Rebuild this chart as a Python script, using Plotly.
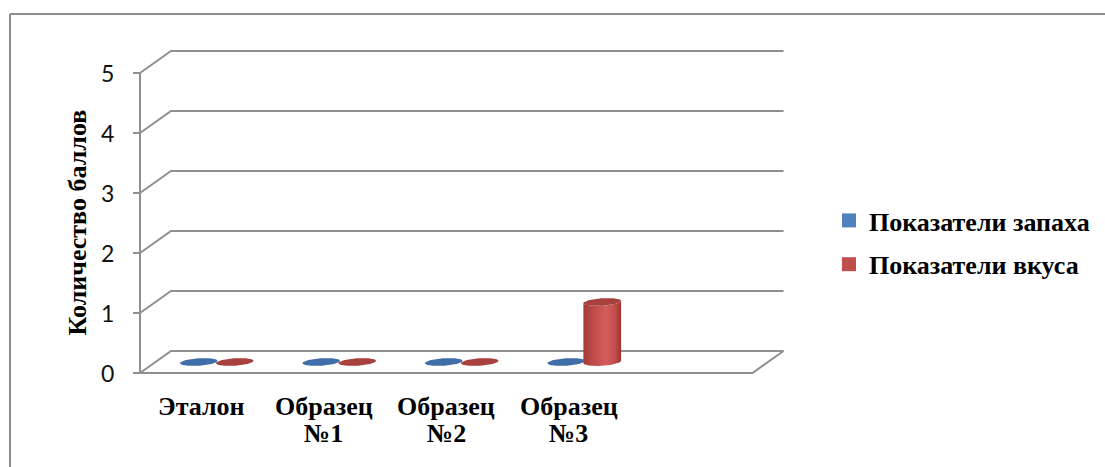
import numpy as np
import plotly.graph_objects as go

# ---------------- data ----------------
categories = [["Эталон"], ["Образец", "№1"], ["Образец", "№2"], ["Образец", "№3"], []]
series_names = ["Показатели запаха", "Показатели вкуса"]
smell_values = [0, 0, 0, 0]
taste_values = [0, 0, 0, 1]
y_ticks = [0, 1, 2, 3, 4, 5]
y_title = "Количество баллов"

# ---------------- styling / projection ----------------
W, H = 1105, 467
PX_X = 122.5          # pixels per category slot
PX_Y = 60.0           # pixels per value unit
X0_PX, Y0_PX = 140, 373
DX = 31 / PX_X        # depth offset (data units) for full depth
DY = 22 / PX_Y
GRID = "#8f8f8f"
SERIF = "Liberation Serif"
FS = 26
n_slots = len(categories)

blue_flat = "#3f6ea8"
blue_key = "#4f81bd"
red_flat = "#a8403e"
red_key = "#c0504d"
red_grad = [[0, "#a23a38"], [0.25, "#bf4b48"], [0.6, "#d45d5a"], [0.85, "#c04c49"], [1, "#9a3432"]]

fig = go.Figure()


def line(xs, ys):
    fig.add_trace(go.Scatter(x=xs, y=ys, mode="lines", line=dict(color=GRID, width=2),
                             hoverinfo="skip", showlegend=False))


# walls / gridlines
for v in y_ticks:
    line([0, DX, n_slots + DX], [v, v + DY, v + DY])
    line([-7 / PX_X, 0], [v, v])
line([0, 0], [y_ticks[0], y_ticks[-1]])
line([0, n_slots, n_slots + DX], [0, 0, DY])

# cylinders
R = 18 / PX_X      # radius along x (data units)
RD = 0.18          # radius along depth (fraction of depth)
th = np.linspace(0, 2 * np.pi, 121)


def ellipse(cx, cy, t):
    return cx + R * np.cos(t) + RD * DX * np.sin(t), cy + RD * DY * np.sin(t)


def cylinder(cx, val, flat_color):
    cy0 = 0.5 * DY
    if val <= 0:
        ex, ey = ellipse(cx, cy0, th)
        fig.add_trace(go.Scatter(x=ex, y=ey, fill="toself", fillcolor=flat_color, mode="lines",
                                 line=dict(width=0, color=flat_color), hoverinfo="skip", showlegend=False))
        return
    t0 = np.arctan2(RD * DX, R)
    front = np.linspace(t0 - np.pi, t0, 80)
    bx, by = ellipse(cx, cy0, front)
    tx, ty = ellipse(cx, cy0 + val, front[::-1])
    fig.add_trace(go.Scatter(x=np.r_[bx, tx, bx[:1]], y=np.r_[by, ty, by[:1]], fill="toself",
                             fillgradient=dict(type="horizontal", colorscale=red_grad),
                             mode="lines", line=dict(width=0, color=flat_color),
                             hoverinfo="skip", showlegend=False))
    ex, ey = ellipse(cx, cy0 + val, th)
    fig.add_trace(go.Scatter(x=ex, y=ey, fill="toself", fillcolor=flat_color, mode="lines",
                             line=dict(width=0, color=flat_color), hoverinfo="skip", showlegend=False))


for i in range(len(smell_values)):
    base = i + 0.5 + 0.5 * DX
    cylinder(base - R, smell_values[i], blue_flat)
    cylinder(base + R, taste_values[i], red_flat)

# legend entries
for name, col in zip(series_names, [blue_key, red_key]):
    fig.add_trace(go.Scatter(x=[None], y=[None], mode="markers", name=name, legendgroup=name,
                             marker=dict(symbol="square", size=14, color=col)))

ann = []
for v in y_ticks:
    ann.append(dict(x=-24 / PX_X, y=v, xref="x", yref="y", text=str(v), showarrow=False,
                    xanchor="right", yanchor="middle", font=dict(family="Lato", size=23, color="#111")))
for i, lines in enumerate(categories):
    for k, txt in enumerate(lines):
        ann.append(dict(x=i + 0.5, y=(Y0_PX - 406 - 27 * k) / PX_Y - (Y0_PX - Y0_PX) / PX_Y,
                        xref="x", yref="y", text="<b>%s</b>" % txt, showarrow=False,
                        xanchor="center", yanchor="middle",
                        font=dict(family=SERIF, size=FS, color="black")))
ann.append(dict(x=-63 / PX_X, y=(Y0_PX - 222.5) / PX_Y, xref="x", yref="y", text="<b>%s</b>" % y_title,
                showarrow=False, textangle=-90, xanchor="center", yanchor="middle",
                font=dict(family=SERIF, size=FS, color="black")))

fig.update_layout(
    width=W, height=H, autosize=False,
    margin=dict(l=0, r=0, t=0, b=0),
    paper_bgcolor="white", plot_bgcolor="white",
    xaxis=dict(range=[-X0_PX / PX_X, (W - X0_PX) / PX_X], visible=False, fixedrange=True),
    yaxis=dict(range=[(Y0_PX - H) / PX_Y, Y0_PX / PX_Y], visible=False, fixedrange=True),
    annotations=ann,
    showlegend=True,
    legend=dict(x=829 / W, y=1 - 197 / H, xanchor="left", yanchor="top",
                font=dict(family=SERIF, size=FS, color="black", weight="bold"),
                traceorder="grouped", tracegroupgap=7, bgcolor="rgba(0,0,0,0)",
                itemwidth=30),
    shapes=[
        dict(type="line", xref="paper", yref="paper", x0=10 / W, x1=1, y0=1 - 14 / H, y1=1 - 14 / H,
             line=dict(color="#8c8c8c", width=2)),
        dict(type="line", xref="paper", yref="paper", x0=10 / W, x1=10 / W, y0=0, y1=1 - 14 / H,
             line=dict(color="#8c8c8c", width=2)),
    ],
)

fig.write_html("out.html")
